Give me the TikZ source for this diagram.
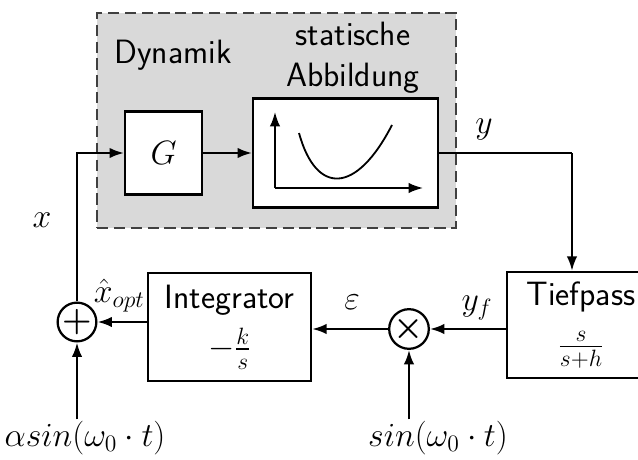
\documentclass[tikz,border=0pt]{standalone}
\usepackage{fix-cm}
\usepackage{fontspec}
\usepackage{amsmath}
\usetikzlibrary{arrows.meta}
\tikzset{
 block/.style={draw,line width=1.6pt,fill=white,inner sep=0pt,align=center},
 junct/.style={draw,circle,line width=1.6pt,fill=white,inner sep=0pt,minimum size=0.75cm},
 sig/.style={line width=1.6pt,-{Latex[length=3.6mm,width=2.6mm]}},
 wire/.style={line width=1.6pt},
 lbl/.style={inner sep=1pt}
}
\begin{document}
\begin{tikzpicture}[font=\fontsize{24}{29}\selectfont\sffamily]
 \clip (0,0) rectangle (15.95,11.475);
 % gestrichelter Rahmen
 \node[draw=black!75,dash pattern=on 8pt off 4pt,line width=1.1pt,fill=black!15,
  minimum width=8.975cm,minimum height=5.375cm] (grp) at (6.9125,8.4625) {};
 \node (dyn) at (4.325,10.1) {Dynamik};
 \node[align=center] (stat) at (8.825,10.025) {statische\\Abbildung};
 % Bloecke
 \node[block,minimum width=1.925cm,minimum height=2.075cm] (g) at (4.09,7.65) {$G$};
 \node[block,minimum width=4.625cm,minimum height=2.725cm] (abb) at (8.64,7.65) {};
 \node[block,minimum width=3.7cm,minimum height=2.65cm] (tp) at (14.525,3.35) {Tiefpass\\[6pt]$\frac{s}{s+h}$};
 \node[block,minimum width=4.075cm,minimum height=2.7cm] (int) at (5.74,3.3) {Integrator\\[6pt]$-\frac{k}{s}$};
 \node[junct] (mul) at (10.225,3.25) {$\boldsymbol{\times}$};
 \node[junct] (sum) at (1.925,3.425) {$\boldsymbol{+}$};
 % Kennlinie
 \draw[sig,line width=1.3pt] (6.875,6.775) -- (6.875,8.675);
 \draw[sig,line width=1.3pt] (6.875,6.775) -- (10.575,6.775);
 \draw[line width=1.3pt] (7.475,8.15) .. controls (7.9,6.6) and (8.9,6.6) .. (9.8,8.35);
 % Signale
 \coordinate (yk) at (14.3,7.65);
 \node[lbl] (in1) at (2.125,0.525) {$\alpha sin(\omega_0\cdot t)$};
 \node[lbl] (in2) at (10.95,0.525) {$sin(\omega_0\cdot t)$};
 \draw[sig] (g.east) -- (abb.west);
 \draw[wire] (abb.east) -- (yk);
 \draw[sig] (yk) -- (yk |- tp.north);
 \draw[sig] (tp.west |- mul) -- (mul.east);
 \draw[sig] (mul.west) -- (int.east |- mul);
 \draw[sig] (int.west |- sum) -- (sum.east);
 \draw[sig] (sum.north) |- (g.west);
 \draw[sig] (sum |- in1.north) -- (sum.south);
 \draw[sig] (mul |- in2.north) -- (mul.south);
 % Beschriftungen
 \node (ly) at (12.1,8.225) {$y$};
 \node (lx) at (1.05,5.975) {$x$};
 \node[inner sep=1pt] (lxo) at (2.98,4.08) {$\hat{x}_{opt}$};
 \node (lyf) at (11.925,3.775) {$y_f$};
 \node (leps) at (8.8,3.925) {$\varepsilon$};
\end{tikzpicture}
\end{document}
